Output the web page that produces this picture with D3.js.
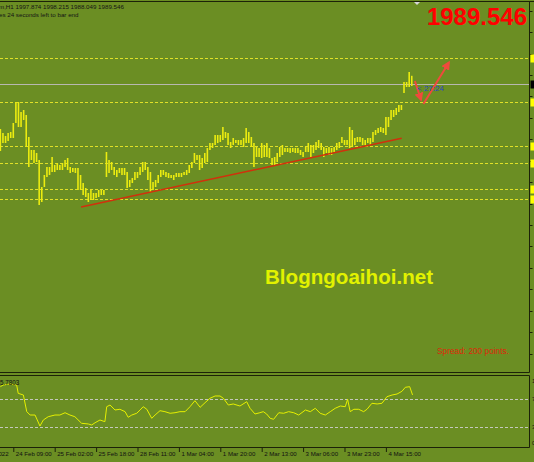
<!DOCTYPE html>
<meta charset="utf-8">
<style>
  body { margin: 0; background: #6b8e23; overflow: hidden; }
  svg { display: block; }
  text { font-family: "Liberation Sans", Arial, sans-serif; }
</style>
<svg width="534" height="462"></svg>
<script src="https://d3js.org/d3.v7.min.js"></script>
<script>
  // H1 bars (price units)
  var highs = [
    1945, 1941, 1938, 1941, 1942, 1951, 1972, 1972, 1962, 1964,
    1959, 1937, 1924, 1924, 1921, 1914, 1887, 1899, 1907, 1907,
    1917, 1909, 1911, 1909, 1911, 1914, 1916, 1907, 1906, 1906,
    1906, 1899, 1891, 1886, 1881, 1884, 1881, 1881, 1884, 1884,
    1884, 1922, 1914, 1912, 1907, 1904, 1906, 1906, 1906, 1902,
    1894, 1896, 1902, 1902, 1907, 1912, 1912, 1907, 1902, 1892,
    1894, 1899, 1904, 1904, 1902, 1901, 1899, 1899, 1901, 1901,
    1901, 1902, 1904, 1909, 1912, 1921, 1919, 1919, 1916, 1921,
    1926, 1931, 1931, 1939, 1939, 1939, 1947, 1942, 1941, 1932,
    1936, 1934, 1934, 1934, 1936, 1946, 1942, 1937, 1931, 1927,
    1926, 1931, 1929, 1931, 1926, 1916, 1917, 1921, 1927, 1929,
    1926, 1926, 1926, 1926, 1926, 1926, 1924, 1922, 1927, 1931,
    1929, 1929, 1932, 1934, 1931, 1927, 1926, 1927, 1926, 1927,
    1931, 1932, 1937, 1934, 1934, 1947, 1944, 1936, 1937, 1937,
    1936, 1934, 1936, 1936, 1942, 1944, 1946, 1947, 1946, 1957,
    1957, 1964, 1964, 1966, 1969, 1969, 1992, 1992, 2002, 1998.2
  ];
  var lows = [
    1923, 1931, 1931, 1933, 1936, 1936, 1951, 1947, 1947, 1954,
    1927, 1907, 1914, 1911, 1912, 1869, 1872, 1887, 1897, 1899,
    1902, 1902, 1904, 1904, 1904, 1907, 1904, 1901, 1902, 1901,
    1884, 1884, 1879, 1877, 1872, 1874, 1874, 1876, 1877, 1879,
    1879, 1897, 1901, 1904, 1899, 1897, 1901, 1899, 1899, 1886,
    1887, 1891, 1894, 1896, 1899, 1902, 1904, 1894, 1882, 1884,
    1887, 1891, 1897, 1899, 1897, 1896, 1896, 1894, 1897, 1897,
    1897, 1899, 1899, 1901, 1906, 1911, 1914, 1904, 1906, 1911,
    1912, 1924, 1926, 1929, 1931, 1932, 1934, 1936, 1929, 1926,
    1929, 1931, 1929, 1929, 1927, 1931, 1931, 1927, 1907, 1917,
    1917, 1916, 1917, 1917, 1916, 1909, 1909, 1912, 1917, 1919,
    1922, 1922, 1921, 1922, 1921, 1921, 1919, 1917, 1922, 1922,
    1917, 1921, 1924, 1926, 1924, 1917, 1921, 1919, 1919, 1922,
    1924, 1926, 1931, 1929, 1929, 1926, 1927, 1929, 1932, 1932,
    1929, 1929, 1931, 1929, 1932, 1939, 1941, 1942, 1941, 1939,
    1947, 1954, 1957, 1959, 1962, 1964, 1981, 1987, 1987, 1988.0
  ];

  var bid = 1989.546;
  var levels = [2016, 1972, 1928, 1911, 1885, 1875];
  var priceTicks = [2063, 2042, 2020, 1999, 1978, 1956, 1935, 1913, 1892, 1870, 1849, 1828, 1806, 1785, 1763, 1742, 1720];

  // trend line and the two hand drawn arrows: [bar, price]
  var trend = [[31.2, 1867], [155.1, 1935.7]];
  var arrows = [
    [[160.2, 1993], [162.6, 1974]],
    [[163.5, 1970], [173.4, 2011.7]]
  ];

  // RSI line: [bar position, value]
  var rsiAt = [0, 1.1, 3.7, 6.3, 6.9, 8.9, 10.2, 11.5, 13.4, 15.3, 16.6, 18.5, 21.1, 23, 25, 26.9, 28.8,
    31.4, 34, 35.3, 36.6, 38.5, 40.4, 41.1, 42.4, 44.3, 46.2, 48.2, 49.4, 50.8, 52.7, 54, 55.2, 56.6,
    58.5, 59.8, 61.7, 63.6, 65.6, 67.5, 69.4, 71.4, 73.3, 75.2, 77.2, 79.1, 81, 83, 84.9, 86.2, 88.1,
    90, 92.6, 95.2, 96.5, 98.4, 100.3, 101.6, 102.9, 104.3, 105.6, 107.6, 109.5, 111.4, 113.4, 115.3,
    117.9, 119.8, 121.7, 123.6, 125.6, 127.5, 129.4, 131.4, 133.3, 134.2, 135.2, 136.6, 138.5, 140.4,
    141.7, 143.6, 145.6, 147.5, 149.4, 151.4, 153.3, 155.2, 156.5, 158.2, 159.3];
  var rsiVal = [87.6, 90, 91.4, 90, 78.1, 75.7, 51.9, 47.1, 47.1, 31.4, 40, 44.7, 47.1, 47.1, 50.4, 47.1, 44.7,
    35.3, 34.3, 32.9, 36.1, 40, 37.6, 59, 61.4, 54.3, 55.3, 51.9, 43.9, 47.1, 49.6, 54.3, 59, 55.3,
    42.4, 47.1, 53.3, 51.9, 49.6, 50.4, 51.9, 51.9, 59, 67.6, 58.1, 64.7, 71, 74.3, 74.3, 71, 61.4,
    62.9, 60, 66.1, 56.7, 48.6, 50.4, 51.9, 48.6, 42.4, 41, 50.4, 49.6, 51.9, 50.4, 47.1,
    54.3, 51.9, 56.7, 49.6, 47.1, 51.9, 56.7, 60, 59, 69.6, 51.9, 55.3, 55.3, 51.9,
    55.3, 63.9, 62.9, 63.9, 73.3, 75.7, 77.1, 81, 86.7, 87.6, 75.8];
  var rsiLevels = [70, 30];
  var rsiTicks = [100, 70, 30, 0];

  var timeBars = [-11, 5, 21, 37, 53, 69, 85, 101, 117, 133, 149];
  var timeLabels = ["24 Feb 2022", "24 Feb 09:00", "25 Feb 02:00", "25 Feb 18:00", "28 Feb 11:00",
    "1 Mar 04:00", "1 Mar 20:00", "2 Mar 13:00", "3 Mar 06:00", "3 Mar 23:00", "4 Mar 15:00"];

  var svg = d3.select("svg"),
    width = +svg.attr("width"),
    height = +svg.attr("height");
  var axisX = 529.5;
  var dark = "#1c2208";

  var x = d3.scaleLinear().domain([0, 200]).range([0.36, 0.36 + 200 * 2.5875]);
  var y = d3.scaleLinear().domain([1702, 2072]).range([372, 2]);
  var ry = d3.scaleLinear().domain([0, 100]).range([448, 378]);
  var crisp = function(v) { return Math.round(v) + 0.5; };

  svg.append("rect").attr("width", width).attr("height", height).attr("fill", "#6b8e23");

  //horizontal levels
  svg.append("g").selectAll("line")
    .data(levels)
    .enter().append("line")
    .attr("x1", 0).attr("x2", axisX)
    .attr("y1", (d) => crisp(y(d))).attr("y2", (d) => crisp(y(d)))
    .attr("stroke", "#e0e028")
    .attr("stroke-dasharray", "3,2");

  svg.append("line")
    .attr("x1", 0).attr("x2", axisX)
    .attr("y1", crisp(y(bid))).attr("y2", crisp(y(bid)))
    .attr("stroke", "#b8b8b0");

  //bars
  svg.append("g").selectAll("line")
    .data(highs)
    .enter().append("line")
    .attr("x1", (d, i) => x(i)).attr("x2", (d, i) => x(i))
    .attr("y1", (d) => y(d))
    .attr("y2", (d, i) => y(lows[i]))
    .attr("stroke", "#ecec10")
    .attr("stroke-width", 1.6);

  //trend line
  svg.append("line")
    .attr("x1", x(trend[0][0])).attr("y1", y(trend[0][1]))
    .attr("x2", x(trend[1][0])).attr("y2", y(trend[1][1]))
    .attr("stroke", "#d2300c")
    .attr("stroke-width", 1.4);

  //arrows
  svg.append("defs").append("marker")
    .attr("id", "head")
    .attr("viewBox", "0 0 10 10")
    .attr("refX", 8).attr("refY", 5)
    .attr("markerWidth", 4.5).attr("markerHeight", 4.5)
    .attr("orient", "auto")
    .append("path").attr("d", "M0,0L10,5L0,10z").attr("fill", "#f04a3c");

  svg.append("g").selectAll("line")
    .data(arrows)
    .enter().append("line")
    .attr("x1", (d) => x(d[0][0])).attr("y1", (d) => y(d[0][1]))
    .attr("x2", (d) => x(d[1][0])).attr("y2", (d) => y(d[1][1]))
    .attr("stroke", "#f04a3c")
    .attr("stroke-width", 2)
    .attr("marker-end", "url(#head)");

  svg.append("text")
    .attr("x", 417).attr("y", 91)
    .attr("font-size", 8)
    .attr("fill", "#2a48c8")
    .text("< 27:24");

  //right price scale
  var py = svg.append("g")
    .attr("transform", "translate(" + axisX + ",0)")
    .call(d3.axisRight(y).tickValues(priceTicks).tickSize(3).tickFormat(""));
  py.select(".domain").remove();
  py.selectAll("line").attr("stroke", dark);

  svg.append("g").selectAll("rect")
    .data(levels)
    .enter().append("rect")
    .attr("x", axisX + 1).attr("y", (d) => crisp(y(d)) - 4)
    .attr("width", 8).attr("height", 8)
    .attr("fill", "#ffff00");
  svg.append("rect")
    .attr("x", axisX + 1).attr("y", crisp(y(bid)) - 4)
    .attr("width", 8).attr("height", 8)
    .attr("fill", "#000");

  //frames
  var frame = svg.append("g").attr("stroke", dark).attr("fill", "none");
  frame.append("line").attr("x1", 0).attr("x2", width).attr("y1", 1.5).attr("y2", 1.5);
  frame.append("line").attr("x1", 0).attr("x2", axisX).attr("y1", 372.5).attr("y2", 372.5);
  frame.append("line").attr("x1", 0).attr("x2", axisX).attr("y1", 375.5).attr("y2", 375.5);
  frame.append("line").attr("x1", 0).attr("x2", axisX).attr("y1", 447.5).attr("y2", 447.5);
  frame.append("line").attr("x1", axisX).attr("x2", axisX).attr("y1", 1).attr("y2", 372.5);
  frame.append("line").attr("x1", axisX).attr("x2", axisX).attr("y1", 375.5).attr("y2", 447.5);

  //chart shift marker
  svg.append("path")
    .attr("d", "M414,2L420,2L417,5z")
    .attr("fill", "#d8d8d8");

  //RSI window
  svg.append("g").selectAll("line")
    .data(rsiLevels)
    .enter().append("line")
    .attr("x1", 0).attr("x2", axisX)
    .attr("y1", (d) => crisp(ry(d))).attr("y2", (d) => crisp(ry(d)))
    .attr("stroke", "#c4c8bc")
    .attr("stroke-dasharray", "3,2");

  var rsiLine = d3.line()
    .x((d, i) => x(rsiAt[i]))
    .y((d) => ry(d));
  svg.append("path")
    .attr("d", rsiLine(rsiVal))
    .attr("fill", "none")
    .attr("stroke", "#e6f000")
    .attr("stroke-width", 1);

  svg.append("g").selectAll("text")
    .data(rsiTicks)
    .enter().append("text")
    .attr("x", 532)
    .attr("y", (d) => Math.max(381, Math.min(443, ry(d))) + 2)
    .attr("font-size", 6)
    .attr("fill", "#111")
    .text((d) => d);

  svg.append("text")
    .attr("x", 0).attr("y", 385)
    .attr("font-size", 6.3)
    .attr("fill", "#111")
    .text("5.7803");

  //time scale
  var tx = svg.append("g")
    .attr("transform", "translate(0,448)")
    .call(d3.axisBottom(x).tickValues(timeBars).tickSize(4)
      .tickFormat((d, i) => timeLabels[i]));
  tx.select(".domain").remove();
  tx.selectAll("line").attr("stroke", dark);
  tx.selectAll("text")
    .attr("text-anchor", "start")
    .attr("x", 2).attr("y", 8).attr("dy", 0)
    .attr("fill", "#111")
    .attr("font-size", 6.1)
    .attr("font-family", "Liberation Sans, Arial, sans-serif");

  //texts
  svg.append("text")
    .attr("x", -1).attr("y", 9)
    .attr("font-size", 6.2)
    .attr("fill", "#141414")
    .text("m,H1  1997.874 1998.215 1988.049 1989.546");
  svg.append("text")
    .attr("x", -1).attr("y", 17)
    .attr("font-size", 6.2)
    .attr("fill", "#141414")
    .text("es 24 seconds left to bar end");

  svg.append("text")
    .attr("x", 527).attr("y", 25)
    .attr("text-anchor", "end")
    .attr("font-size", 24)
    .attr("font-weight", "bold")
    .attr("fill", "#ff0000")
    .text("1989.546");

  svg.append("text")
    .attr("x", 265).attr("y", 284)
    .attr("font-size", 20)
    .attr("font-weight", "bold")
    .attr("textLength", 168)
    .attr("lengthAdjust", "spacingAndGlyphs")
    .attr("fill", "#e2f200")
    .text("Blogngoaihoi.net");

  svg.append("text")
    .attr("x", 437).attr("y", 354)
    .attr("font-size", 8.5)
    .attr("textLength", 72)
    .attr("lengthAdjust", "spacingAndGlyphs")
    .attr("fill", "#dd2a0a")
    .text("Spread: 200 points.");
</script>
